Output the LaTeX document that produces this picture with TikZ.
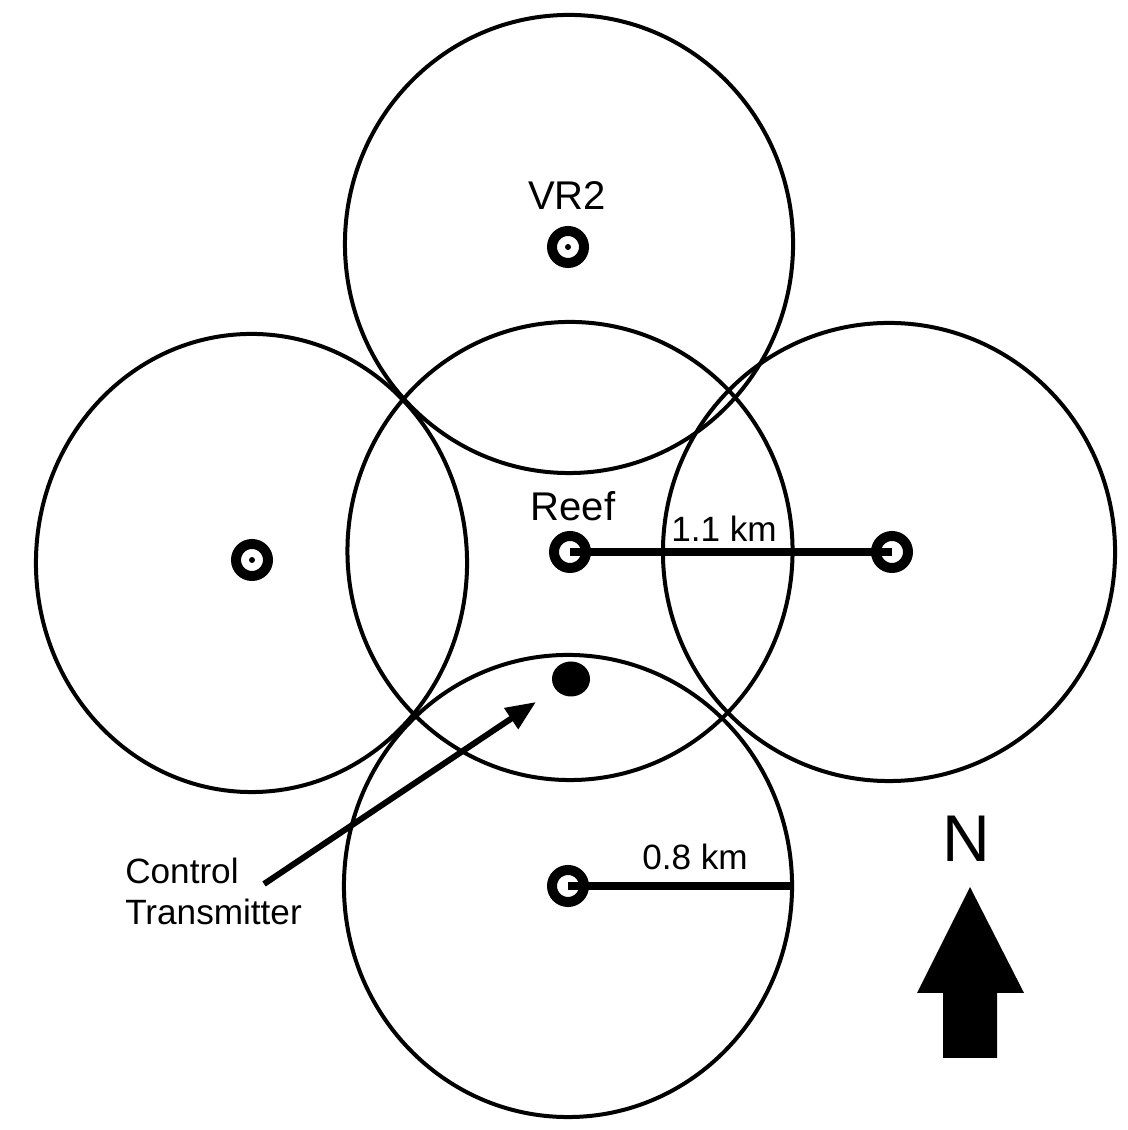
\documentclass[tikz,border=0pt]{standalone}
\usepackage{fontspec}
\setmainfont{Liberation Sans}
\usetikzlibrary{arrows.meta,shapes.geometric}
\begin{document}
\begin{tikzpicture}[x=0.025cm,y=0.025cm,
  zone/.style={ellipse,draw,line width=0.1cm,inner sep=0pt,minimum height=11.45cm},
  rcv/.style={circle,draw,line width=0.25cm,minimum size=0.8cm,inner sep=0pt},
  lbl/.style={font=\fontsize{25}{29.2}\selectfont,inner sep=0pt},
  biglbl/.style={font=\fontsize{28.5}{32}\selectfont,inner sep=0pt},
  bar/.style={line width=0.2cm},
  pointer/.style={line width=0.15cm,-{Triangle[length=0.75cm,width=0.6cm]}}]
\useasboundingbox (0,0) rectangle (1128,1130);
% detection zones
\node[zone,minimum width=11.2cm] (zT) at (569,886) {};
\node[zone,minimum width=11.125cm] (zC) at (570,579) {};
\node[zone,minimum width=10.775cm] (zL) at (251.5,567) {};
\node[zone,minimum width=11.3cm] (zR) at (889,578) {};
\node[zone,minimum width=11.2cm,minimum height=11.55cm] (zB) at (568,244) {};
% receivers
\node[rcv] (rT) at (568,883) {};
\node[rcv] (rC) at (570,578) {};
\node[rcv] (rL) at (252,570) {};
\node[rcv] (rR) at (892,578) {};
\node[rcv] (rB) at (568,244) {};
\fill (rT.center) circle (3);
\fill (rL.center) circle (3);
% distance bars
\draw[bar] (rC.center) -- (rR.center);
\draw[bar] (rB.center) -- (zB.east);
% labels
\node[biglbl] (vr2) at (567,934) {VR2};
\node[biglbl] (reef) at (573,624) {Reef};
\node[lbl] (d11) at (724,601) {1.1 km};
\node[lbl] (d08) at (695,273) {0.8 km};
\node[lbl,align=left,anchor=north west] (ctl) at (125,272) {Control\\Transmitter};
% control transmitter
\node[ellipse,fill,minimum width=0.95cm,minimum height=0.875cm,inner sep=0pt] (ct) at (571,451) {};
\coordinate (cstart) at (264,246);
\coordinate (cend) at (536,428);
\draw[pointer] (cstart) -- (cend);
% north arrow
\node[font=\fontsize{47}{50}\selectfont,inner sep=0pt] (N) at (966,291) {N};
\fill (970,243) -- (1024,137) -- (997,137) -- (997,72) -- (943,72) -- (943,137) -- (917,137) -- cycle;
\end{tikzpicture}
\end{document}
